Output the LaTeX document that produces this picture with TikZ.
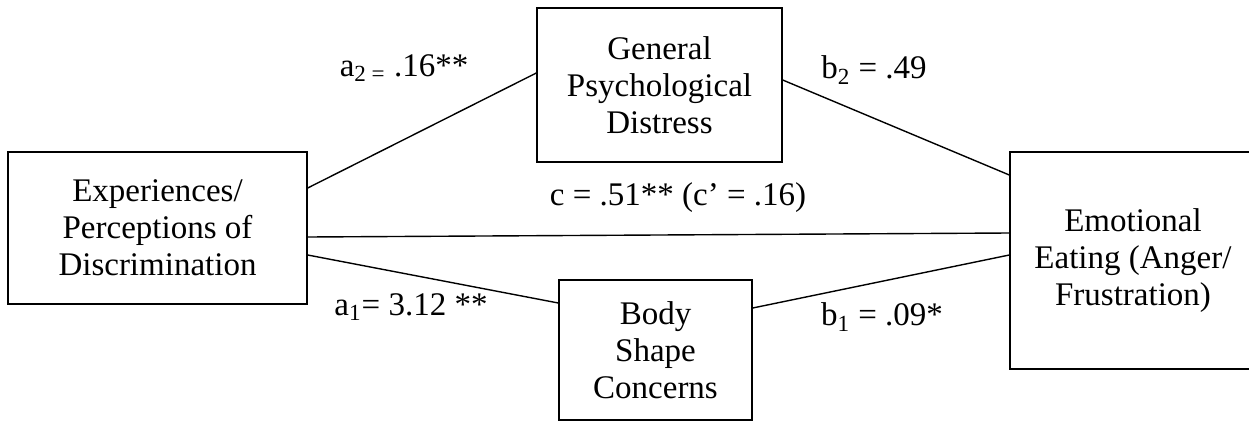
\documentclass[tikz,border=0pt]{standalone}
\usepackage{fontspec}
\setmainfont{Liberation Serif}
\usepackage{tikz}
\usetikzlibrary{positioning, calc}
\tikzstyle{var} = [rectangle,
draw=black, line width=0.7pt,
align=center, inner sep=2pt,
font=\fontsize{16.5}{18.5}\selectfont]
\tikzstyle{coef} = [inner sep=0pt,
font=\fontsize{16.5}{18.5}\selectfont]
\tikzstyle{link} = [line width=0.7pt]

\begin{document}
\begin{tikzpicture}[x=0.5pt, y=-0.5pt]
            \useasboundingbox (0,0) rectangle (1249,434);
            % variables
            \node (disc) [var, minimum width=149.5pt, minimum height=76pt] at (157.5,228) {Experiences/\\Perceptions of\\Discrimination};
            \node (distress) [var, minimum width=122.5pt, minimum height=77pt] at (659.5,85) {General\\Psychological\\Distress};
            \node (body) [var, minimum width=96.5pt, minimum height=70pt] at (655.5,350) {Body\\Shape\\Concerns};
            \node (emo) [var, minimum width=123pt, minimum height=108.5pt] at (1133,260.5) {Emotional\\Eating (Anger/\\Frustration)};

            % paths
            \draw [link] ($(disc.east)+(0,-40)$) -- ($(distress.west)+(0,-12)$);
            \draw [link] ($(distress.east)+(0,-5)$) -- ($(emo.west)+(0,-85.5)$);
            \draw [link] ($(disc.east)+(0,9)$) -- ($(emo.west)+(0,-27.5)$);
            \draw [link] ($(disc.east)+(0,27)$) -- ($(body.west)+(0,-47)$);
            \draw [link] ($(body.east)+(0,-42)$) -- ($(emo.west)+(0,-5.5)$);

            % coefficients
            \node (a2) [coef] at (404,68) {a\textsubscript{2 =} .16**};
            \node (b2) [coef] at (874,70) {b\textsubscript{2} = .49};
            \node (c) [coef] at (678,198) {c = .51** (c’ = .16)};
            \node (a1) [coef] at (411,307) {a\textsubscript{1}= 3.12 **};
            \node (b1) [coef] at (882,317) {b\textsubscript{1} = .09*};
        \end{tikzpicture}
\end{document}
